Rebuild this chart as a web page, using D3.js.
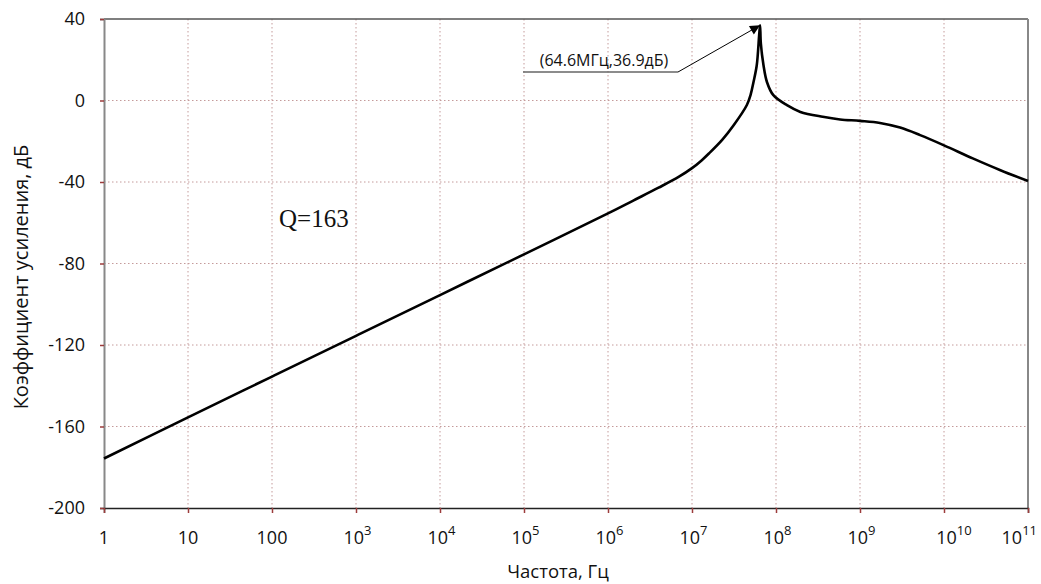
<!DOCTYPE html>
<html>
<head>
<meta charset="utf-8">
<script src="https://cdn.jsdelivr.net/npm/d3@7"></script>
<style>
  html, body { margin: 0; padding: 0; background: #fff; }
  svg { display: block; }
</style>
</head>
<body>
<svg id="chart" width="1041" height="584"></svg>
<script>
// Frequency response: gain (dB) against frequency (Hz)
const freqHz = [1, 10, 100, 1e3, 1e4, 1e5, 1e6, 2e6, 4e6, 7e6, 1e7, 1.3e7, 1.6e7, 2.3e7, 3.1e7, 4.5e7,
  5e7, 5.4e7, 5.9e7, 6.3e7, 6.46e7, 6.6e7, 7.1e7, 7.8e7, 9.3e7, 1.35e8, 1.95e8, 3.6e8,
  5.8e8, 1e9, 1.73e9, 3e9, 5.2e9, 1e10, 2.2e10, 4.7e10, 1e11];
const gainDb = [-175.7, -155.5, -135.5, -115.5, -95.5, -75.5, -55.4, -49.1, -42.8, -37.4, -33.2, -29.4, -25.9, -19.2, -12.4, -2.2,
  3.0, 9.1, 17.3, 32, 36.9, 28, 17.3, 9.1, 2.6, -2.3, -5.6, -8.0,
  -9.3, -10.0, -11.0, -13.3, -17.0, -22.0, -28.4, -34.2, -39.5];

const xTickExp = [0, 1, 2, 3, 4, 5, 6, 7, 8, 9, 10, 11];
const yTicks = [40, 0, -40, -80, -120, -160, -200];

const peakFreq = 6.46e7, peakGain = 36.9;
const peakLabel = "(64.6МГц,36.9дБ)";
const qLabel = "Q=163";
const xTitle = "Частота, Гц";
const yTitle = "Коэффициент усиления, дБ";

const svg = d3.select("#chart");
const plotLeft = 104, plotRight = 1028, plotTop = 19, plotBottom = 508;

const x = d3.scaleLog().domain([1, 1e11]).range([plotLeft, plotRight]);
const y = d3.scaleLinear().domain([-200, 40]).range([plotBottom, plotTop]);

const font = "'Open Sans', 'Noto Sans', sans-serif";
const gridColor = "#c49a9a";
const tickColor = "#9c3c3c";

// grid
const grid = svg.append("g");
grid.selectAll("line.v").data(xTickExp.slice(1, -1)).join("line")
  .attr("x1", d => x(Math.pow(10, d))).attr("x2", d => x(Math.pow(10, d)))
  .attr("y1", plotTop).attr("y2", plotBottom)
  .attr("stroke", gridColor).attr("stroke-width", 1).attr("stroke-dasharray", "1.5,2.5");
grid.selectAll("line.h").data(yTicks.slice(1, -1)).join("line")
  .attr("x1", plotLeft).attr("x2", plotRight)
  .attr("y1", d => y(d)).attr("y2", d => y(d))
  .attr("stroke", gridColor).attr("stroke-width", 1).attr("stroke-dasharray", "1.5,2.5");

// frame
svg.append("line").attr("x1", plotLeft).attr("x2", plotRight).attr("y1", plotTop).attr("y2", plotTop)
  .attr("stroke", "#555").attr("stroke-width", 1.5);
svg.append("line").attr("x1", plotRight).attr("x2", plotRight).attr("y1", plotTop).attr("y2", plotBottom)
  .attr("stroke", "#888").attr("stroke-width", 2);

// axes
const yAxis = d3.axisLeft(y).tickValues(yTicks).tickSize(4).tickFormat(d3.format("d"));
const gy = svg.append("g").attr("transform", `translate(${plotLeft},0)`).call(yAxis);
gy.select(".domain").attr("stroke", "#888").attr("stroke-width", 2);
gy.selectAll(".tick line").attr("stroke", tickColor).attr("stroke-width", 1.5);
gy.selectAll(".tick text").attr("x", -19).attr("font-family", font).attr("font-size", 18).attr("fill", "#111")
  .text(d => d < 0 ? "-" + Math.abs(d) : d);

const xAxis = d3.axisBottom(x).tickValues(xTickExp.map(e => Math.pow(10, e))).tickSize(5).tickFormat("");
const gx = svg.append("g").attr("transform", `translate(0,${plotBottom})`).call(xAxis);
gx.select(".domain").attr("stroke", "#222").attr("stroke-width", 1.5);
gx.selectAll(".tick line").attr("stroke", tickColor).attr("stroke-width", 1.5);

// x tick labels: 1, 10, 100, then powers of ten with superscripts
const xl = svg.append("g").attr("font-family", font).attr("font-size", 18).attr("fill", "#111");
xTickExp.forEach(e => {
  const tx = x(Math.pow(10, e));
  const t = xl.append("text").attr("y", 544);
  if (e <= 2) {
    t.attr("x", tx).attr("text-anchor", "middle").text(String(Math.pow(10, e)));
    return;
  }
  t.append("tspan").text("10");
  t.append("tspan").attr("dy", -9).attr("font-size", 13).text(String(e));
  if (e === xTickExp[xTickExp.length - 1]) {
    // last label kept inside the right edge
    t.attr("x", 1037).attr("text-anchor", "end");
  } else {
    t.attr("x", tx + (e >= 10 ? 10 : 1.5)).attr("text-anchor", "middle");
  }
});

// curve
const line = d3.line()
  .x((d, i) => x(freqHz[i]))
  .y((d, i) => y(gainDb[i]))
  .curve(d3.curveCatmullRom.alpha(0.5));
svg.append("path").datum(gainDb).attr("d", line)
  .attr("fill", "none").attr("stroke", "#000").attr("stroke-width", 2.6).attr("stroke-linejoin", "round");

// peak annotation
svg.append("defs").append("marker").attr("id", "arrow")
  .attr("viewBox", "0 0 10 10").attr("refX", 10).attr("refY", 5)
  .attr("markerWidth", 14).attr("markerHeight", 10).attr("markerUnits", "userSpaceOnUse")
  .attr("orient", "auto")
  .append("path").attr("d", "M0,0 L10,5 L0,10 Z").attr("fill", "#000");

const elbowX = 678, elbowY = 72;
svg.append("line").attr("x1", 523).attr("x2", elbowX).attr("y1", elbowY).attr("y2", elbowY)
  .attr("stroke", "#666").attr("stroke-width", 1.6);
svg.append("line").attr("x1", elbowX).attr("y1", elbowY)
  .attr("x2", x(peakFreq)).attr("y2", y(peakGain))
  .attr("stroke", "#000").attr("stroke-width", 1).attr("marker-end", "url(#arrow)");
svg.append("text").attr("x", 604).attr("y", 66).attr("text-anchor", "middle")
  .attr("font-family", font).attr("font-size", 16).attr("fill", "#111").text(peakLabel);

// quality factor note
svg.append("text").attr("x", 279).attr("y", 227)
  .attr("font-family", "'Liberation Serif', 'Times New Roman', serif").attr("font-size", 25)
  .attr("fill", "#111").text(qLabel);

// axis titles
svg.append("text").attr("x", 558).attr("y", 578).attr("text-anchor", "middle")
  .attr("font-family", font).attr("font-size", 18.5).attr("fill", "#111").text(xTitle);
svg.append("text").attr("transform", "translate(28,277) rotate(-90)").attr("text-anchor", "middle")
  .attr("font-family", font).attr("font-size", 20).attr("fill", "#111").text(yTitle);
</script>
</body>
</html>
